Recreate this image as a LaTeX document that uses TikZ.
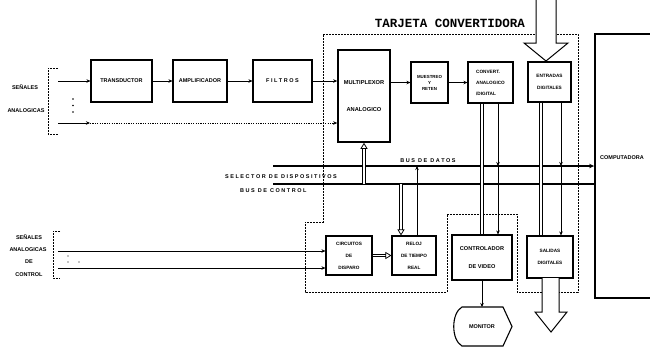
\documentclass[tikz,border=0pt]{standalone}
\usepackage{fontspec}
\setmainfont{Liberation Sans}
\newfontfamily\monofnt{Liberation Mono}
\usetikzlibrary{arrows.meta,calc}
\begin{document}
\begin{tikzpicture}[x=1pt,y=-1pt,
  lbl/.style={font=\fontsize{5.5}{6.5}\selectfont\bfseries, inner sep=0pt, align=center},
  box/.style={draw, line width=1.1pt, inner sep=0pt, align=center, font=\fontsize{5.5}{7}\selectfont\bfseries},
  arr/.style={-{Stealth[length=4pt,width=3.5pt]}, line width=0.9pt},
  bus/.style={line width=1.8pt},
  dbl/.style={double, double distance=1.6pt, line width=0.75pt},
  dblarr/.style={double, double distance=1.6pt, line width=0.75pt, -{Triangle[open,length=6pt,width=7pt,line width=0.75pt]}},
  card/.style={dash pattern=on 1.6pt off 1.4pt, line width=0.9pt},
  dotln/.style={dash pattern=on 1.2pt off 1.2pt, line width=0.9pt},
  hollow/.style={draw, line width=1pt, fill=white, line join=miter}
]
\useasboundingbox (0,0) rectangle (650,349);

% title
\node[font=\monofnt\bfseries\fontsize{12.5}{14}\selectfont, inner sep=0pt] (title) at (450,23) {TARJETA CONVERTIDORA};

% card outline
\draw[card] (323,34) -- (578,34) -- (578,292) -- (517,292) -- (517,214) -- (447,214) -- (447,292) -- (305,292) -- (305,222) -- (323,222) -- cycle;

% top chain boxes
\node[box, minimum width=61pt, minimum height=42pt] (trans) at (121.5,81) {TRANSDUCTOR};
\node[box, minimum width=54pt, minimum height=42pt] (ampl) at (200,81) {AMPLIFICADOR};
\node[box, minimum width=59pt, minimum height=42pt] (filt) at (282.5,81) {F I L T R O S};
\node[box, line width=1.6pt, minimum width=52pt, minimum height=92pt, font=\fontsize{5.7}{27}\selectfont\bfseries] (mux) at (364,96) {MULTIPLEXOR\\ANALOGICO};
\node[box, minimum width=37pt, minimum height=41pt, font=\fontsize{4.4}{6}\selectfont\bfseries] (mues) at (429.5,82.5) {MUESTREO\\Y\\RETEN};
\node[box, minimum width=45pt, minimum height=41pt, align=left, font=\fontsize{4.7}{11}\selectfont\bfseries] (conv) at (490.5,82.5) {CONVERT.\\ANALOGICO\\/DIGITAL};
\node[box, minimum width=43pt, minimum height=40pt, font=\fontsize{4.7}{12}\selectfont\bfseries] (entr) at (549.5,82) {ENTRADAS\\DIGITALES};

% computer
\node[draw, line width=1.8pt, minimum width=70pt, minimum height=264pt, inner sep=0pt] (comp) at (630,166) {};
\node[lbl, anchor=west] (complbl) at (600,158) {COMPUTADORA};

% lower boxes
\node[box, minimum width=46pt, minimum height=39pt, font=\fontsize{4.7}{12}\selectfont\bfseries] (circ) at (349,255.5) {CIRCUITOS\\DE\\DISPARO};
\node[box, minimum width=44pt, minimum height=39pt, font=\fontsize{4.7}{12}\selectfont\bfseries] (reloj) at (414,255.5) {RELOJ\\DE TIEMPO\\REAL};
\node[box, minimum width=60pt, minimum height=45pt, font=\fontsize{5.6}{18}\selectfont\bfseries] (ctrl) at (482,257.5) {CONTROLADOR\\DE VIDEO};
\node[box, minimum width=46pt, minimum height=42pt, font=\fontsize{4.7}{12}\selectfont\bfseries] (sal) at (550,257) {SALIDAS\\DIGITALES};

% monitor
\draw[line width=1.1pt, line join=miter] (462,307) -- (503,307) -- (512,326.5) -- (503,346) -- (462,346) .. controls (451,340) and (451,313) .. (462,307) -- cycle;
\node[lbl] (mon) at (482,327) {MONITOR};
\coordinate (montop) at (482,307);

% left labels (upper)
\node[lbl] (sen1) at (25,87) {SEÑALES};
\node[lbl] (ana1) at (26,111) {ANALOGICAS};
\draw[card] (58,68) -- (48,68) -- (48,134) -- (58,134);
\coordinate (inA) at (58,81);
\coordinate (inB) at (58,123);
\coordinate (inBm) at (90,123);
\fill (73,99) circle (0.9pt) (73,105.5) circle (0.9pt) (73,112) circle (0.9pt);

% left labels (lower)
\node[lbl] (sen2) at (29,237) {SEÑALES};
\node[lbl] (ana2) at (28,250) {ANALOGICAS};
\node[lbl] (de2) at (29,262) {DE};
\node[lbl] (con2) at (29,275) {CONTROL};
\draw[card] (60,231) -- (53,231) -- (53,278) -- (60,278);
\coordinate (cA) at (58,251);
\coordinate (cB) at (58,268);
\fill (68,256) circle (0.7pt) (68,262) circle (0.7pt) (79,262) circle (0.7pt);

% signal chain arrows
\draw[arr] (inA) -- (inA -| trans.west);
\draw[arr] (trans.east) -- (ampl.west);
\draw[arr] (ampl.east) -- (filt.west);
\draw[arr] (filt.east) -- (filt.east -| mux.west);
\draw[arr] (inB) -- (inBm);
\draw[dotln, -{Stealth[length=4pt,width=3.5pt]}] (inBm) -- (inBm -| mux.west);
\draw[arr] (mues.west -| mux.east) -- (mues.west);
\draw[arr] (mues.east) -- (conv.west);
\draw[arr] (cA) -- (cA -| circ.west);
\draw[arr] (cB) -- (cB -| circ.west);
\draw[dblarr] (circ.east) -- (reloj.west);

% buses
\coordinate (dbL) at (273,166);
\coordinate (cbL) at (273,184);
\draw[bus, -{Stealth[length=5pt,width=4.5pt]}] (dbL) -- (dbL -| comp.west);
\draw[bus] (cbL) -- (cbL -| comp.west);
\node[lbl, anchor=south] (bdd) at (428,163) {B U S \ D E \ D A T O S};
\node[lbl, anchor=west] (sel) at (225,177) {S E L E C T O R \ D E \ D I S P O S I T I V O S};
\node[lbl, anchor=west] (bdc) at (240,191) {B U S \ D E \ C O N T R O L};

% vertical links
\draw[dblarr] (mux.south |- cbL) -- (mux.south);
\draw[dblarr] ([xshift=-13pt]reloj.north |- cbL) -- ([xshift=-13pt]reloj.north);
\draw[arr] ([xshift=3pt]reloj.north) -- ([xshift=3pt]reloj.north |- dbL);
\draw[dbl] ([xshift=-8.5pt]conv.south) -- ([xshift=-8.5pt]conv.south |- ctrl.north);
\draw[arr] ([xshift=7.5pt]conv.south) -- ([xshift=7.5pt]conv.south |- dbL);
\draw[arr] ([xshift=16pt]ctrl.north |- dbL) -- ([xshift=16pt]ctrl.north);
\draw[dbl] ([xshift=-8.5pt]entr.south) -- ([xshift=-8.5pt]entr.south |- sal.north);
\draw[arr] ([xshift=11.5pt]entr.south) -- ([xshift=11.5pt]entr.south |- dbL);
\draw[arr] ([xshift=11pt]sal.north |- dbL) -- ([xshift=11pt]sal.north);
\draw[arr] (ctrl.south) -- (montop);

% big hollow arrows
\draw[hollow] (536,0) -- (536,43) -- (524,43) -- (546,61) -- (568,43) -- (556,43) -- (556,0);
\draw[hollow] (542,278) -- (542,312) -- (535,312) -- (551,332) -- (567,312) -- (559,312) -- (559,278);
\end{tikzpicture}
\end{document}
